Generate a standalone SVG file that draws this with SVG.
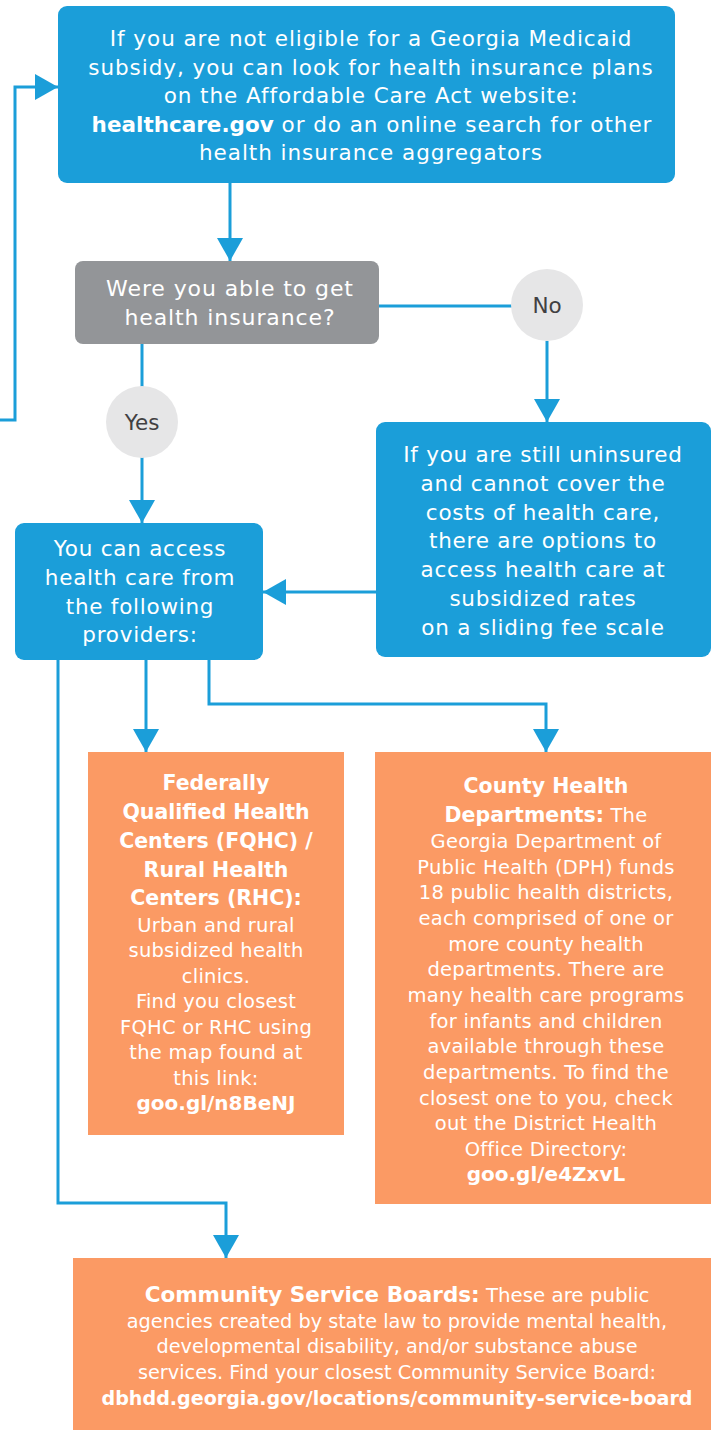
<svg xmlns="http://www.w3.org/2000/svg" width="717" height="1431" viewBox="0 0 717 1431">
<style>
.blue{fill:#1b9ed9}
.gray{fill:#939598}
.orange{fill:#fb9a64}
.pill{fill:#e6e6e7}
.t{font-family:"DejaVu Sans","Liberation Sans",sans-serif;fill:#ffffff;text-anchor:middle}
.lt{font-weight:400;font-size:21.5px;letter-spacing:0.75px}
.top{letter-spacing:0.95px}
.dq{font-size:22px;letter-spacing:0.9px}
.sm{font-weight:400;font-size:19.5px;letter-spacing:0.25px}
.cs{font-weight:400;font-size:19.3px}
.cs1{font-size:19.8px}
.h{font-weight:700;font-size:20.5px;letter-spacing:0}
.hb{font-weight:700;font-size:21.5px}
.b{font-weight:700;letter-spacing:0}
.lk{font-weight:700;font-size:20px;letter-spacing:0}
.lk2{font-size:19.1px}
.lbl{font-family:"DejaVu Sans","Liberation Sans",sans-serif;fill:#414042;font-size:21.5px;text-anchor:middle}
.c{fill:none;stroke:#1b9ed9;stroke-width:3}
</style>
<defs>
<marker id="ah" viewBox="0 0 23 26" refX="23" refY="13" markerWidth="23" markerHeight="26" orient="auto" markerUnits="userSpaceOnUse">
<path d="M0 0 L23 13 L0 26 Z" fill="#1b9ed9"/>
</marker>
</defs>
<rect width="717" height="1431" fill="#ffffff"/>
<g id="connectors">
<path class="c" d="M0 420 H15 V87 H58" marker-end="url(#ah)"/>
<path class="c" d="M230 183 V261" marker-end="url(#ah)"/>
<path class="c" d="M379 306 H512"/>
<path class="c" d="M547 341 V422" marker-end="url(#ah)"/>
<path class="c" d="M142 344 V388"/>
<path class="c" d="M142 457 V523" marker-end="url(#ah)"/>
<path class="c" d="M376 592 H263" marker-end="url(#ah)"/>
<path class="c" d="M146 660 V752" marker-end="url(#ah)"/>
<path class="c" d="M209 660 V704 H546 V752" marker-end="url(#ah)"/>
<path class="c" d="M58 660 V1203 H226 V1258" marker-end="url(#ah)"/>
</g>
<g id="start">
<rect class="blue" x="58" y="6" width="617" height="177" rx="9"/>
<text class="t lt top" x="371" y="46">If you are not eligible for a Georgia Medicaid</text>
<text class="t lt top" x="371" y="75">subsidy, you can look for health insurance plans</text>
<text class="t lt top" x="371" y="103">on the Affordable Care Act website:</text>
<text class="t lt top" x="372" y="132"><tspan class="b">healthcare.gov</tspan> or do an online search for other</text>
<text class="t lt top" x="371" y="160">health insurance aggregators</text>
</g>
<g id="decision">
<rect class="gray" x="75" y="261" width="304" height="83" rx="8"/>
<text class="t lt dq" x="230" y="296">Were you able to get</text>
<text class="t lt dq" x="230" y="325">health insurance?</text>
</g>
<g id="no">
<circle class="pill" cx="547" cy="305" r="36"/>
<text class="lbl" x="547" y="313">No</text>
</g>
<g id="yes">
<circle class="pill" cx="142" cy="422" r="36"/>
<text class="lbl" x="142" y="430">Yes</text>
</g>
<g id="uninsured">
<rect class="blue" x="376" y="422" width="335" height="235" rx="9"/>
<text class="t lt" x="543" y="462">If you are still uninsured</text>
<text class="t lt" x="543" y="491">and cannot cover the</text>
<text class="t lt" x="543" y="520">costs of health care,</text>
<text class="t lt" x="543" y="548">there are options to</text>
<text class="t lt" x="543" y="577">access health care at</text>
<text class="t lt" x="543" y="606">subsidized rates</text>
<text class="t lt" x="543" y="635">on a sliding fee scale</text>
</g>
<g id="access">
<rect class="blue" x="15" y="523" width="248" height="137" rx="9"/>
<text class="t lt" x="140" y="556">You can access</text>
<text class="t lt" x="140" y="585">health care from</text>
<text class="t lt" x="140" y="614">the following</text>
<text class="t lt" x="140" y="642">providers:</text>
</g>
<g id="fqhc">
<rect class="orange" x="88" y="752" width="256" height="383"/>
<text class="t h" x="216" y="790">Federally</text>
<text class="t h" x="216" y="819">Qualified Health</text>
<text class="t h" x="216" y="848">Centers (FQHC) /</text>
<text class="t h" x="216" y="877">Rural Health</text>
<text class="t h" x="216" y="905">Centers (RHC):</text>
<text class="t sm" x="216" y="932">Urban and rural</text>
<text class="t sm" x="216" y="957">subsidized health</text>
<text class="t sm" x="216" y="983">clinics.</text>
<text class="t sm" x="216" y="1008">Find you closest</text>
<text class="t sm" x="216" y="1034">FQHC or RHC using</text>
<text class="t sm" x="216" y="1059">the map found at</text>
<text class="t sm" x="216" y="1085">this link:</text>
<text class="t lk" x="216" y="1110">goo.gl/n8BeNJ</text>
</g>
<g id="county">
<rect class="orange" x="375" y="752" width="336" height="452"/>
<text class="t h" x="546" y="793">County Health</text>
<text class="t sm" x="546" y="822"><tspan class="h">Departments:</tspan> The</text>
<text class="t sm" x="546" y="848">Georgia Department of</text>
<text class="t sm" x="546" y="874">Public Health (DPH) funds</text>
<text class="t sm" x="546" y="899">18 public health districts,</text>
<text class="t sm" x="546" y="925">each comprised of one or</text>
<text class="t sm" x="546" y="951">more county health</text>
<text class="t sm" x="546" y="976">departments. There are</text>
<text class="t sm" x="546" y="1002">many health care programs</text>
<text class="t sm" x="546" y="1028">for infants and children</text>
<text class="t sm" x="546" y="1053">available through these</text>
<text class="t sm" x="546" y="1079">departments. To find the</text>
<text class="t sm" x="546" y="1105">closest one to you, check</text>
<text class="t sm" x="546" y="1130">out the District Health</text>
<text class="t sm" x="546" y="1156">Office Directory:</text>
<text class="t lk" x="546" y="1181">goo.gl/e4ZxvL</text>
</g>
<g id="csb">
<rect class="orange" x="73" y="1258" width="638" height="172"/>
<text class="t cs cs1" x="397" y="1302"><tspan class="hb">Community Service Boards:</tspan> These are public</text>
<text class="t cs" x="397" y="1328">agencies created by state law to provide mental health,</text>
<text class="t cs" x="397" y="1353">developmental disability, and/or substance abuse</text>
<text class="t cs" x="397" y="1379">services. Find your closest Community Service Board:</text>
<text class="t lk lk2" x="397" y="1405">dbhdd.georgia.gov/locations/community-service-board</text>
</g>
</svg>
